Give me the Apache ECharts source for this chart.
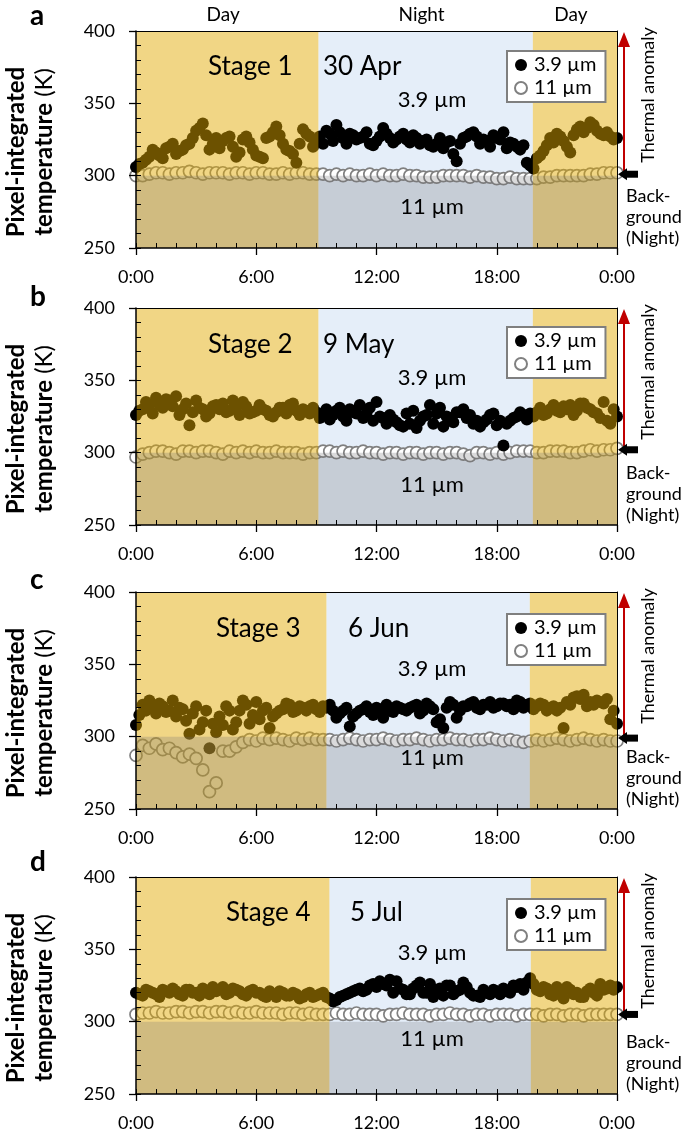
<!DOCTYPE html>
<html><head><meta charset="utf-8">
<script src="https://cdn.jsdelivr.net/npm/echarts@6/dist/echarts.min.js"></script>
<style>html,body{margin:0;padding:0;background:#fff}#c{width:685px;height:1137px}</style>
</head><body><div id="c"></div>
<script>
// ---------- DATA ----------
const times = [0,20,40,60,80,100,120,140,160,180,200,220,240,260,280,300,320,340,360,380,400,420,440,460,480,500,520,540,560,580,600,620,640,660,680,700,720,740,760,780,800,820,840,860,880,900,920,940,960,980,1000,1020,1040,1060,1080,1100,1120,1140,1160,1180,1200,1220,1240,1260,1280,1300,1320,1340,1360,1380,1400,1420,1440];
const midTimes = [10,30,50,70,90,110,130,150,170,190,210,230,250,270,290,310,330,350,370,390,410,430,450,470,490,510,530,550,570,590,610,630,650,670,690,710,730,750,770,790,810,830,850,870,890,910,930,950,970,990,1010,1030,1050,1070,1090,1110,1130,1150,1170,1190,1210,1230,1250,1270,1290,1310,1330,1350,1370,1390,1410,1430];
const xTickLabels = ['0:00','6:00','12:00','18:00','0:00'];
const yTicks = [250,300,350,400];
const panelLetters = ['a','b','c','d'];
const stageLabels = ['Stage 1','Stage 2','Stage 3','Stage 4'];
const dateLabels = ['30 Apr','9 May','6 Jun','5 Jul'];
const seriesNames = ['3.9 µm','11 µm'];
const periodLabels = ['Day','Night','Day'];
const nightStart = [546,546,570,579];
const nightEnd = [1188,1188,1179,1182];
const bgLevel = [301,302,299,305];

// 3.9 µm at times[]
const a39 = [306,309,313,316,312,320,315,318,322,331,336,318,326,324,327,313,325,323,314,312,327,334,322,317,309,332,327,325,
  322,329,335,326,329,325,327,322,324,333,326,325,329,323,326,324,321,322,319,324,310,326,329,327,325,320,326,330,323,320,321,307,
  312,317,326,329,324,316,332,330,337,331,328,327,326];
// 3.9 µm at midTimes[]
const a39m = [308,311,318,314,319,322,317,321,326,333,328,322,319,326,320,316,327,318,313,326,330,328,318,315,322,329,320,
  327,331,324,330,322,328,326,330,321,327,329,323,327,325,328,322,325,320,326,323,315,322,327,330,322,324,328,325,319,322,318,309,
  305,314,321,323,327,320,328,334,333,335,329,330,325];
const a11 = [300,300,301,302,302,301,302,302,303,302,301,302,302,302,301,302,302,301,302,302,301,301,302,301,302,302,301,301,
  301,300,301,300,301,300,300,301,300,301,300,300,301,300,300,299,299,299,300,300,300,300,299,300,299,299,298,298,299,298,298,298,
  298,299,299,300,300,300,300,300,301,301,302,302,302];
const b39 = [326,330,333,338,331,336,339,330,319,336,330,327,333,334,329,331,335,327,329,330,326,328,331,333,329,330,327,328,
  327,323,329,325,330,327,324,331,335,324,326,321,318,320,317,325,333,327,318,324,328,330,326,322,321,326,319,305,322,325,326,327,
  328,326,330,329,332,333,329,334,330,327,335,320,325];
const b39m = [329,335,327,333,337,332,326,334,328,331,325,332,330,328,336,326,332,328,333,329,325,331,327,334,326,329,331,
  324,330,326,331,322,328,333,327,322,325,320,323,319,327,329,322,326,320,331,325,321,328,324,320,318,323,327,322,320,324,328,323,
  325,331,327,333,328,330,326,334,331,328,324,322,330];
const b11 = [297,299,300,301,301,300,299,301,301,300,301,301,300,299,301,300,301,300,301,300,300,301,300,300,300,299,300,300,
  301,301,300,301,300,300,301,300,300,299,300,300,299,300,300,299,300,300,299,300,300,299,298,300,300,299,300,299,300,301,301,301,
  300,300,301,301,301,300,300,301,302,301,302,302,303];
const c39 = [308,322,325,316,321,318,314,319,302,321,310,292,303,308,318,310,325,309,324,318,306,316,319,322,318,320,321,319,
  321,322,313,318,307,316,319,317,320,313,318,321,319,320,322,318,321,310,306,324,313,321,323,320,322,324,321,323,322,325,320,323,
  321,322,320,318,306,322,328,329,324,325,323,312,309];
const c39m = [315,318,320,323,317,325,320,311,316,305,318,309,314,321,305,318,322,315,312,320,314,318,323,317,321,318,322,
  317,320,318,316,320,314,318,321,315,319,322,317,320,318,321,316,323,319,312,320,322,318,321,324,319,322,320,323,321,319,324,322,
  319,323,318,321,320,324,327,326,321,322,324,326,318];
const c11 = [287,294,292,295,291,292,289,286,288,285,277,262,268,290,290,293,296,298,297,299,298,299,298,297,299,298,299,298,
  298,298,297,298,299,298,297,298,298,299,298,297,298,298,299,298,297,298,298,299,298,298,297,298,298,299,298,297,298,297,296,297,
  298,297,298,299,298,297,298,299,298,297,298,297,297];
const d39 = [320,318,321,319,322,320,321,318,322,320,323,319,321,324,320,322,319,321,320,318,321,317,320,318,319,317,320,318,
  320,316,315,318,320,322,321,325,324,326,329,328,322,319,325,320,326,322,318,325,321,327,320,318,322,319,321,323,320,324,322,330,
  322,324,319,324,316,322,320,317,323,318,322,325,324];
const d39m = [319,322,320,317,321,323,319,322,320,318,321,324,322,319,323,321,318,322,320,317,319,321,318,320,316,319,317,
  319,317,314,317,319,321,323,322,326,328,325,320,323,319,323,327,320,317,323,325,319,322,324,318,317,320,322,319,321,325,326,327,
  326,321,323,318,320,324,319,317,321,320,326,323,322];
const d11 = [305,306,306,307,306,306,307,307,306,307,307,306,307,307,306,307,306,306,307,306,306,306,305,306,306,305,306,305,
  305,305,306,305,305,306,305,305,305,304,305,305,306,305,305,305,304,305,305,306,305,305,304,305,305,304,305,305,305,304,305,305,
  305,304,305,305,304,305,305,304,305,305,305,305,305];

const data39 = [a39,b39,c39,d39];
const data39m = [a39m,b39m,c39m,d39m];
const data11 = [a11,b11,c11,d11];

// ---------- LAYOUT ----------
const FONT = 'Lato';
const gridTops = [31,308,592,877];
const gridLeft = 136, gridWidth = 481, gridHeight = 217;
const stageRelY = [36,37,37,36];
const stageX = [208,208,216,226];
const dateX = [323,323,348,350];
const lab39RelY = [69,70,77,76];
const lab11RelY = [176,177,166,162];
const legendRelTop = [20,19,22,22];
const letterY = [16,297,580,862];

const chart = echarts.init(document.getElementById('c'), null, {renderer:'canvas'});

const grids = [], xAxes = [], yAxes = [], series = [], legends = [];
const NP = 4;
for (let p = 0; p < NP; p++) {
  grids.push({left: gridLeft, top: gridTops[p], width: gridWidth, height: gridHeight, show:false, outerBoundsMode:'none', containLabel:false});
}
// main x axes 0..3
for (let p = 0; p < NP; p++) xAxes.push({
  gridIndex:p, type:'value', min:0, max:1440, interval:360, position:'bottom', z:10,
  axisLine:{onZero:false, lineStyle:{color:'#000', width:1.5}},
  axisTick:{show:true, length:7, inside:false, lineStyle:{color:'#000', width:1.3}},
  axisLabel:{formatter:v => xTickLabels[Math.round(v/360)], fontSize:18, fontFamily:FONT, color:'#000', margin:20},
  splitLine:{show:false}
});
// minor x axes 4..7
for (let p = 0; p < NP; p++) xAxes.push({
  gridIndex:p, type:'value', min:0, max:1440, interval:60, position:'bottom', z:10,
  axisLine:{show:false, onZero:false}, axisLabel:{show:false}, splitLine:{show:false},
  axisTick:{show:true, inside:true, length:5, lineStyle:{color:'#000', width:1}}
});
// top x axes 8..11
for (let p = 0; p < NP; p++) xAxes.push({
  gridIndex:p, type:'value', min:0, max:1440, position:'top', z:10,
  axisLine:{show:true, onZero:false, lineStyle:{color:'#000', width:1}},
  axisTick:{show:false}, axisLabel:{show:false}, splitLine:{show:false}
});
// main y axes 0..3
for (let p = 0; p < NP; p++) yAxes.push({
  gridIndex:p, type:'value', min:yTicks[0], max:yTicks[yTicks.length-1], interval:50, position:'left', z:10,
  axisLine:{show:true, onZero:false, lineStyle:{color:'#000', width:1.5}},
  axisTick:{show:true, length:7, lineStyle:{color:'#000', width:1.3}},
  axisLabel:{fontSize:18, fontFamily:FONT, color:'#000', margin:21},
  splitLine:{show:false}
});
// minor y axes 4..7
for (let p = 0; p < NP; p++) yAxes.push({
  gridIndex:p, type:'value', min:250, max:400, interval:10, position:'left', z:10,
  axisLine:{show:false, onZero:false}, axisLabel:{show:false}, splitLine:{show:false},
  axisTick:{show:true, inside:true, length:5, lineStyle:{color:'#000', width:1}}
});
// right y axes 8..11
for (let p = 0; p < NP; p++) yAxes.push({
  gridIndex:p, type:'value', min:250, max:400, position:'right', z:10,
  axisLine:{show:true, onZero:false, lineStyle:{color:'#000', width:1}},
  axisTick:{show:false}, axisLabel:{show:false}, splitLine:{show:false}
});

const YELLOW = 'rgba(226,170,0,0.48)';
const GRAY = 'rgba(108,108,112,0.25)';
for (let p = 0; p < NP; p++) {
  series.push({
    name:'night', type:'scatter', xAxisIndex:p, yAxisIndex:p, data:[], z:1, silent:true,
    markArea:{z:1, silent:true, label:{show:false}, emphasis:{disabled:true},
      itemStyle:{color:'#e5eef9', opacity:1},
      data:[[{xAxis:nightStart[p]},{xAxis:nightEnd[p]}]]}
  });
  series.push({
    name:seriesNames[1], type:'scatter', xAxisIndex:p, yAxisIndex:p, z:2, silent:true,
    symbol:'circle', symbolSize:12,
    itemStyle:{color:'#ffffff', borderColor:'#808080', borderWidth:1.7, opacity:1},
    data: times.map((t,i) => [t, data11[p][i]])
  });
  const pts39 = times.map((t,i) => [t, data39[p][i]]).concat(midTimes.map((t,i) => [t, data39m[p][i]]));
  series.push({
    name:seriesNames[0], type:'scatter', xAxisIndex:p, yAxisIndex:p, z:3, silent:true,
    symbol:'circle', symbolSize:12,
    itemStyle:{color:'#000000', opacity:1},
    data: pts39
  });
  series.push({
    name:'overlay', type:'scatter', xAxisIndex:p, yAxisIndex:p, data:[], z:4, silent:true,
    markArea:{z:6, silent:true, label:{show:false}, emphasis:{disabled:true},
      data:[
        [{xAxis:0, itemStyle:{color:YELLOW}},{xAxis:nightStart[p]}],
        [{xAxis:nightEnd[p], itemStyle:{color:YELLOW}},{xAxis:1440}],
        [{yAxis:250, itemStyle:{color:GRAY}},{yAxis:300}]
      ]}
  });
  legends.push({
    data: seriesNames.map(n => ({name:n})), orient:'vertical', selectedMode:false,
    left:507, top: gridTops[p] + legendRelTop[p],
    itemWidth:12, itemHeight:12, itemGap:3,
    padding:[4,9,4,7], borderColor:'#7f7f7f', borderWidth:2, borderRadius:0,
    backgroundColor:'#ffffff', z:20,
    textStyle:{fontFamily:FONT, fontSize:20, color:'#000', padding:[0,0,0,2]}
  });
}

chart.setOption({
  animation:false,
  grid: grids, xAxis: xAxes, yAxis: yAxes, series: series, legend: legends
});

// ---------- ANNOTATIONS ----------
const g = [];
function txt(x, y, text, size, extra) {
  g.push(Object.assign({type:'text', x:x, y:y, z:50,
    style:Object.assign({text:text, fontFamily:FONT, fontSize:size, fill:'#000', align:'left', verticalAlign:'middle'}, extra && extra.style || {})},
    extra && extra.el || {}));
}
const periodCenters = [nightStart[0]/2, (nightStart[0]+nightEnd[0])/2, (nightEnd[0]+1440)/2];
periodLabels.forEach((lab, i) => {
  const px = chart.convertToPixel({xAxisIndex:0, yAxisIndex:0}, [periodCenters[i], 400]);
  txt(px[0] - 4, 15, lab, 19, {style:{align:'center'}});
});
for (let p = 0; p < NP; p++) {
  const top = gridTops[p];
  txt(30, letterY[p], panelLetters[p], 28, {style:{fontWeight:'bold'}});
  txt(30, top + 121, '{b|Pixel-integrated}\n{b|temperature} {n|(K)}', 24, {
    style:{align:'center', lineHeight:28,
      rich:{b:{fontFamily:FONT, fontSize:24, fontWeight:'bold', lineHeight:28, fill:'#000'},
            n:{fontFamily:FONT, fontSize:24, fontWeight:'normal', lineHeight:28, fill:'#000'}}},
    el:{rotation:Math.PI/2}});
  txt(stageX[p], top + stageRelY[p], stageLabels[p], 26);
  txt(dateX[p], top + stageRelY[p], dateLabels[p], 26);
  txt(432, top + lab39RelY[p], seriesNames[0], 22, {style:{align:'center'}});
  txt(432, top + lab11RelY[p], seriesNames[1], 22, {style:{align:'center'}});
  const pb = chart.convertToPixel({xAxisIndex:p, yAxisIndex:p}, [1440, bgLevel[p]]);
  const pt = chart.convertToPixel({xAxisIndex:p, yAxisIndex:p}, [1440, 400]);
  const xr = pb[0], yb = pb[1], yt = pt[1];
  g.push({type:'line', z:50, shape:{x1:xr+7, y1:yb-3, x2:xr+7, y2:yt+15}, style:{stroke:'#c00000', lineWidth:2}});
  g.push({type:'polygon', z:50, shape:{points:[[xr+7, yt+1],[xr+1, yt+16],[xr+13, yt+16]]}, style:{fill:'#c00000'}});
  g.push({type:'polygon', z:50, shape:{points:[[xr+1, yb],[xr+10, yb-6],[xr+10, yb+6]]}, style:{fill:'#000'}});
  g.push({type:'rect', z:50, shape:{x:xr+9, y:yb-3.5, width:12, height:7}, style:{fill:'#000'}});
  txt(xr+31, yt+64, 'Thermal anomaly', 18, {style:{align:'center'}, el:{rotation:Math.PI/2}});
  txt(xr+9, yt+165, 'Back-', 18);
  txt(xr+9, yt+186, 'ground', 18);
  txt(xr+9, yt+207, '(Night)', 18);
}
chart.setOption({graphic: g});
</script>
</body></html>
